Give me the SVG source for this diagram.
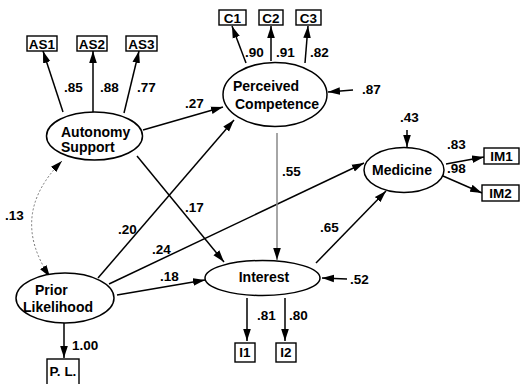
<svg xmlns="http://www.w3.org/2000/svg" width="521" height="384" viewBox="0 0 521 384">
<style>
text{font-family:"Liberation Sans",Arial,sans-serif;font-weight:bold;fill:#000}
.n{font-size:14px}
.v{font-size:13.5px}
.b{font-size:13.5px;text-anchor:middle}
ellipse{fill:#fff;stroke:#000;stroke-width:1.5}
rect{fill:#fff;stroke:#000;stroke-width:1.4}
.c line,.c path{stroke:#000;stroke-width:1.5;fill:none}
</style>
<defs>
<marker id="a" markerUnits="userSpaceOnUse" markerWidth="14" markerHeight="9" refX="12" refY="4.5" orient="auto">
<path d="M0,0.7 L12,4.5 L0,8.3 Z" fill="#000"/>
</marker>
<marker id="as" markerUnits="userSpaceOnUse" markerWidth="14" markerHeight="9" refX="12" refY="4.5" orient="auto-start-reverse">
<path d="M0,0.7 L12,4.5 L0,8.3 Z" fill="#000"/>
</marker>
</defs>
<rect x="0" y="0" width="521" height="384" style="fill:#fff;stroke:none"/>
<g id="connectors" class="c">
<line x1="63" y1="112" x2="43" y2="51" marker-end="url(#a)"/>
<line x1="93" y1="112" x2="93" y2="51" marker-end="url(#a)"/>
<line x1="124" y1="113" x2="139" y2="51" marker-end="url(#a)"/>
<line x1="246" y1="63" x2="232" y2="26" marker-end="url(#a)"/>
<line x1="271" y1="61" x2="271" y2="26" marker-end="url(#a)"/>
<line x1="305" y1="63" x2="308" y2="26" marker-end="url(#a)"/>
<line x1="353" y1="90" x2="328" y2="92" marker-end="url(#a)"/>
<line x1="143" y1="130" x2="223" y2="107" marker-end="url(#a)"/>
<line x1="137" y1="156" x2="224" y2="262" marker-end="url(#a)"/>
<line x1="98" y1="278" x2="234" y2="120" marker-end="url(#a)"/>
<line x1="109" y1="284" x2="364" y2="163" marker-end="url(#a)"/>
<line x1="117" y1="295" x2="205" y2="280" marker-end="url(#a)"/>
<line x1="277" y1="133" x2="277" y2="260" style="stroke:#888" marker-end="url(#a)"/>
<line x1="316" y1="263" x2="386" y2="191" marker-end="url(#a)"/>
<line x1="407" y1="130" x2="407" y2="147" marker-end="url(#a)"/>
<line x1="347" y1="279" x2="322" y2="278" marker-end="url(#a)"/>
<line x1="446" y1="164" x2="484" y2="157" marker-end="url(#a)"/>
<line x1="443" y1="176" x2="482" y2="193" marker-end="url(#a)"/>
<line x1="247" y1="298" x2="247" y2="341" marker-end="url(#a)"/>
<line x1="285" y1="298" x2="285" y2="341" marker-end="url(#a)"/>
<line x1="64" y1="323" x2="64" y2="358" marker-end="url(#a)"/>
<path d="M62,161 Q8,215 50,277" style="stroke:#777;stroke-width:1;stroke-dasharray:2,2" marker-start="url(#as)" marker-end="url(#a)"/>
</g>
<g id="labels">
<text class="v" x="64" y="92">.85</text>
<text class="v" x="100" y="92">.88</text>
<text class="v" x="137" y="92">.77</text>
<text class="v" x="185" y="108">.27</text>
<text class="v" x="245" y="57">.90</text>
<text class="v" x="276" y="57">.91</text>
<text class="v" x="310" y="57">.82</text>
<text class="v" x="362" y="94">.87</text>
<text class="v" x="400" y="122">.43</text>
<text class="v" x="447" y="149">.83</text>
<text class="v" x="447" y="173">.98</text>
<text class="v" x="282" y="176">.55</text>
<text class="v" x="185" y="212">.17</text>
<text class="v" x="118" y="234">.20</text>
<text class="v" x="152" y="254">.24</text>
<text class="v" x="160" y="281">.18</text>
<text class="v" x="320" y="232">.65</text>
<text class="v" x="350" y="284">.52</text>
<text class="v" x="257" y="320">.81</text>
<text class="v" x="289" y="320">.80</text>
<text class="v" x="72" y="350">1.00</text>
<text class="v" x="5" y="220">.13</text>
</g>
<g id="AS1"><rect x="27" y="36" width="30" height="15"/><text class="b" x="42" y="48.5">AS1</text></g>
<g id="AS2"><rect x="77" y="36" width="30" height="15"/><text class="b" x="92" y="48.5">AS2</text></g>
<g id="AS3"><rect x="126" y="36" width="31" height="15"/><text class="b" x="141.5" y="48.5">AS3</text></g>
<g id="C1"><rect x="219" y="10" width="27" height="15"/><text class="b" x="232.5" y="22.5">C1</text></g>
<g id="C2"><rect x="259" y="10" width="24" height="15"/><text class="b" x="271" y="22.5">C2</text></g>
<g id="C3"><rect x="296" y="10" width="25" height="15"/><text class="b" x="308.5" y="22.5">C3</text></g>
<g id="IM1"><rect x="484" y="148" width="35" height="16"/><text class="b" x="501.5" y="161">IM1</text></g>
<g id="IM2"><rect x="482" y="185" width="37" height="16"/><text class="b" x="500.5" y="198">IM2</text></g>
<g id="I1"><rect x="235" y="343" width="20" height="19"/><text class="b" x="245" y="357">I1</text></g>
<g id="I2"><rect x="276" y="343" width="20" height="19"/><text class="b" x="286" y="357">I2</text></g>
<g id="PL"><rect x="47" y="359" width="32" height="30"/><text class="b" x="63" y="376">P. L.</text></g>
<g id="autonomy"><ellipse cx="94.5" cy="136" rx="48" ry="24"/><text class="n" x="61" y="137">Autonomy</text><text class="n" x="61" y="152">Support</text></g>
<g id="competence"><ellipse cx="275" cy="94.5" rx="52" ry="32"/><text class="n" x="233" y="91">Perceived</text><text class="n" x="235" y="109">Competence</text></g>
<g id="medicine"><ellipse cx="404" cy="170" rx="40" ry="22.5"/><text class="n" x="402" y="175" text-anchor="middle">Medicine</text></g>
<g id="interest"><ellipse cx="262.5" cy="278" rx="57.5" ry="17.5"/><text class="n" x="264" y="282" text-anchor="middle">Interest</text></g>
<g id="prior"><ellipse cx="65" cy="298" rx="49" ry="25"/><text class="n" x="35" y="295">Prior</text><text class="n" x="23" y="312">Likelihood</text></g>
</svg>
